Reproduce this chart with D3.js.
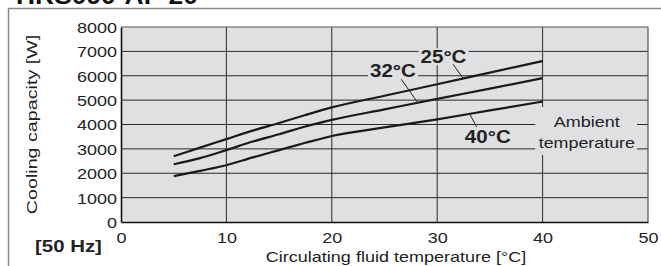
<!DOCTYPE html>
<html>
<head>
<meta charset="utf-8">
<script src="https://cdn.jsdelivr.net/npm/d3@7"></script>
<style>
  body { margin: 0; background: #fff; }
  svg { display: block; font-family: "Liberation Sans", Arial, sans-serif; }
</style>
</head>
<body>
<div id="chart"></div>
<script>
// circulating fluid temperature [°C]
const temps = [5, 7.5, 10, 12.5, 15, 17.5, 20, 25, 30, 35, 40];
// cooling capacity [W] per ambient temperature
const amb25 = [2700, 3050, 3400, 3750, 4060, 4390, 4700, 5180, 5650, 6130, 6600];
const amb32 = [2370, 2620, 2950, 3300, 3600, 3920, 4190, 4620, 5050, 5470, 5900];
const amb40 = [1880, 2100, 2330, 2650, 2950, 3250, 3530, 3880, 4210, 4580, 4940];
const xTicks = [0, 10, 20, 30, 40, 50];
const yTicks = [0, 1000, 2000, 3000, 4000, 5000, 6000, 7000, 8000];

const W = 661, H = 266;
const plotFill = "#dfe0e2";

// the original lettering is wider than Arial, so stretch texts horizontally
function widen(sel, f) {
  sel.each(function () {
    const len = this.getComputedTextLength();
    d3.select(this).attr("textLength", len * f).attr("lengthAdjust", "spacingAndGlyphs");
  });
}

const svg = d3.select("#chart").append("svg").attr("width", W).attr("height", H);

// model title, mostly cut off at the top
svg.append("text")
  .attr("x", 16).attr("y", 4)
  .attr("font-size", 24).attr("font-weight", "bold").attr("fill", "#111")
  .text("HRS090-AF-20")
  .call(widen, 1.1);

// outer frame
svg.append("path")
  .attr("d", `M8.5,${H + 2} V8.5 H${W + 2}`)
  .attr("fill", "none").attr("stroke", "#8a8a8a").attr("stroke-width", 1.5);

const x = d3.scaleLinear().domain([0, 50]).range([121, 648]);
const y = d3.scaleLinear().domain([0, 8000]).range([222, 27]);

const plot = svg.append("g");
plot.append("rect")
  .attr("x", x(0)).attr("y", y(8000))
  .attr("width", x(50) - x(0)).attr("height", y(0) - y(8000))
  .attr("fill", plotFill);

// grid
plot.selectAll(".hgrid").data(yTicks.slice(1, -1)).enter().append("line")
  .attr("x1", x(0)).attr("x2", x(50))
  .attr("y1", d => y(d)).attr("y2", d => y(d))
  .attr("stroke", "#2a2a2a").attr("stroke-width", 1);
plot.selectAll(".vgrid").data(xTicks.slice(1, -1)).enter().append("line")
  .attr("y1", y(0)).attr("y2", y(8000))
  .attr("x1", d => x(d)).attr("x2", d => x(d))
  .attr("stroke", "#2a2a2a").attr("stroke-width", 1);

// top and right border
plot.append("path")
  .attr("d", `M${x(0)},${y(8000)} H${x(50)} V${y(0)}`)
  .attr("fill", "none").attr("stroke", "#555").attr("stroke-width", 1.2);

// axes
const xAxis = d3.axisBottom(x).tickValues(xTicks).tickSize(0).tickPadding(10).tickFormat(d3.format("d"));
const yAxis = d3.axisLeft(y).tickValues(yTicks).tickSize(0).tickPadding(4).tickFormat(d3.format("d"));
const gx = svg.append("g").attr("transform", `translate(0,${y(0)})`).call(xAxis);
const gy = svg.append("g").attr("transform", `translate(${x(0)},0)`).call(yAxis);
[gx, gy].forEach(g => {
  g.select(".domain").attr("stroke", "#111").attr("stroke-width", 1.6);
  g.selectAll("text").attr("font-size", 15).attr("fill", "#222")
    .attr("font-family", "'Liberation Sans', Arial, sans-serif")
    .call(widen, 1.2);
});
gy.selectAll("text").attr("dy", "0.36em");

// annotation masks + labels
const ann = svg.append("g");
ann.append("rect")
  .attr("x", x(39.3)).attr("y", y(4720))
  .attr("width", x(48.95) - x(39.3)).attr("height", y(2750) - y(4720))
  .attr("fill", plotFill);

const series = [
  { name: "25°C", vals: amb25, lx: 30.6, ly: 6510, lead: [[31.5, 6470], [32.5, 5870]] },
  { name: "32°C", vals: amb32, lx: 25.8, ly: 5960, lead: [[26.6, 5855], [28.1, 4930]] },
  { name: "40°C", vals: amb40, lx: 34.8, ly: 3230, lead: [[33.1, 4420], [33.75, 3890]] }
];

const line = d3.line().x((d, i) => x(temps[i])).y(d => y(d)).curve(d3.curveMonotoneX);
plot.selectAll(".curve").data(series).enter().append("path")
  .attr("d", d => line(d.vals))
  .attr("fill", "none").attr("stroke", "#1a1a1a").attr("stroke-width", 2.2);

series.forEach(s => {
  const t = ann.append("text")
    .attr("x", x(s.lx)).attr("y", y(s.ly))
    .attr("text-anchor", "middle")
    .attr("font-size", 19).attr("font-weight", "bold").attr("fill", "#222")
    .text(s.name)
    .call(widen, 1.08);
  const bb = t.node().getBBox();
  ann.insert("rect", "text")
    .attr("x", bb.x - 2).attr("y", bb.y + 2)
    .attr("width", bb.width + 4).attr("height", bb.height - 4)
    .attr("fill", plotFill);
  ann.append("line")
    .attr("x1", x(s.lead[0][0])).attr("y1", y(s.lead[0][1]))
    .attr("x2", x(s.lead[1][0])).attr("y2", y(s.lead[1][1]))
    .attr("stroke", "#222").attr("stroke-width", 1);
});

ann.append("text")
  .attr("x", x(44.2)).attr("y", y(3910)).attr("text-anchor", "middle")
  .attr("font-size", 15).attr("fill", "#222").text("Ambient")
  .call(widen, 1.2);
ann.append("text")
  .attr("x", x(44.2)).attr("y", y(3024)).attr("text-anchor", "middle")
  .attr("font-size", 15).attr("fill", "#222").text("temperature")
  .call(widen, 1.19);

// axis titles
svg.append("text")
  .attr("transform", `translate(37,${(y(0) + y(8000)) / 2}) rotate(-90)`)
  .attr("text-anchor", "middle").attr("font-size", 15.5).attr("fill", "#222")
  .text("Cooling capacity [W]")
  .call(widen, 1.27);
svg.append("text")
  .attr("x", 396).attr("y", 262).attr("text-anchor", "middle")
  .attr("font-size", 15).attr("fill", "#222")
  .text("Circulating fluid temperature [°C]")
  .call(widen, 1.2);
svg.append("text")
  .attr("x", 35).attr("y", 252)
  .attr("font-size", 17).attr("font-weight", "bold").attr("fill", "#222")
  .text("[50 Hz]")
  .call(widen, 1.2);
</script>
</body>
</html>
